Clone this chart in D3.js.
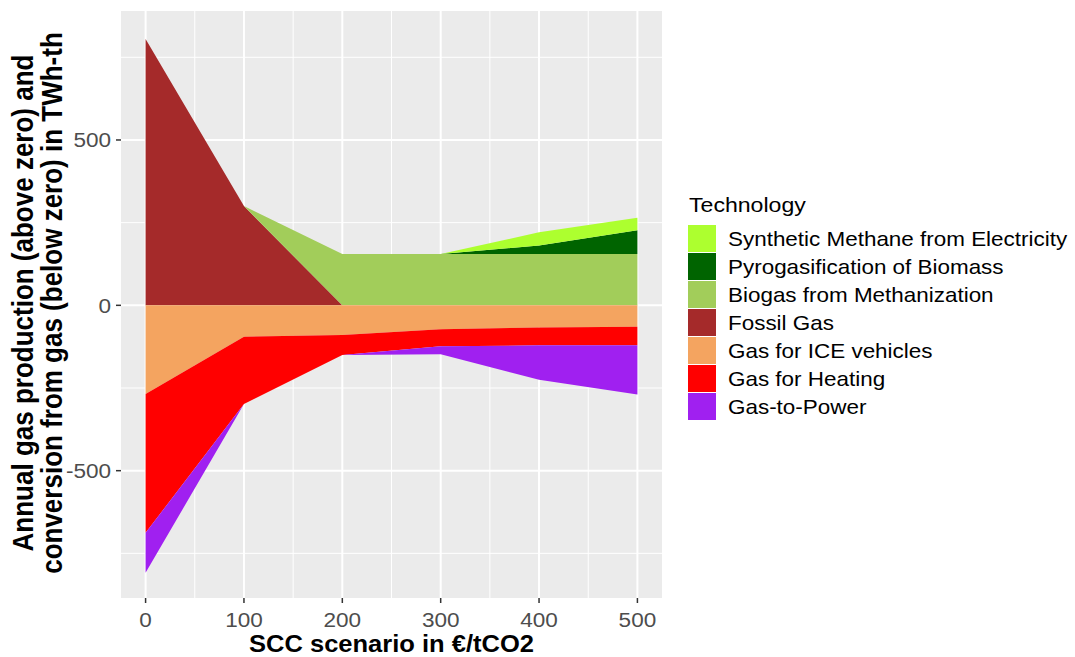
<!DOCTYPE html>
<html>
<head>
<meta charset="utf-8">
<script src="https://cdn.jsdelivr.net/npm/d3@7"></script>
<style>
    body { margin: 0; background: #ffffff; }
    svg { display: block; font-family: "Liberation Sans", Arial, sans-serif; }
</style>
</head>
<body>
<div class="chart"></div>
<script>
// SCC scenarios (€/tCO2)
const scenarios = [0, 100, 200, 300, 400, 500];

// production (TWh-th), above zero
const fossilGas = [805, 300, 0, 0, 0, 0];
const biogasMethanization = [0, 0, 155, 155, 155, 155];
const pyrogasification = [0, 0, 0, 0, 26, 72];
const syntheticMethane = [0, 0, 0, 0, 40, 38];

// conversion from gas (TWh-th), drawn below zero
const gasIceVehicles = [268, 95, 90, 72, 67, 65];
const gasHeating = [420, 203, 60, 52, 54, 56];
const gasToPower = [121, 0, 0, 24, 104, 149];

const xTicks = [0, 100, 200, 300, 400, 500];
const yTicks = [-500, 0, 500];

const techColors = {
    "Synthetic Methane from Electricity": "#ADFF2F",
    "Pyrogasification of Biomass": "#006400",
    "Biogas from Methanization": "#A2CD5A",
    "Fossil Gas": "#A52A2A",
    "Gas for ICE vehicles": "#F4A460",
    "Gas for Heating": "#FF0000",
    "Gas-to-Power": "#A020F0"
};
const legendOrder = Object.keys(techColors);

const rows = scenarios.map((s, i) => ({
    scc: s,
    "Fossil Gas": fossilGas[i],
    "Biogas from Methanization": biogasMethanization[i],
    "Pyrogasification of Biomass": pyrogasification[i],
    "Synthetic Methane from Electricity": syntheticMethane[i],
    "Gas for ICE vehicles": -gasIceVehicles[i],
    "Gas for Heating": -gasHeating[i],
    "Gas-to-Power": -gasToPower[i]
}));

const productionKeys = ["Fossil Gas", "Biogas from Methanization", "Pyrogasification of Biomass", "Synthetic Methane from Electricity"];
const consumptionKeys = ["Gas for ICE vehicles", "Gas for Heating", "Gas-to-Power"];

const width = 1075;
const height = 657;
const panel = { left: 121, right: 662, top: 11, bottom: 598 };
// the reference text is a little wider than tall
const stretch = 1.1;

const svg = d3.select(".chart").append("svg")
    .attr("width", width)
    .attr("height", height);

// scales (ggplot-like 5% expansion)
const x = d3.scaleLinear()
    .domain([-25, 525])
    .range([panel.left, panel.right]);

const y = d3.scaleLinear()
    .domain([-885, 890])
    .range([panel.bottom, panel.top]);

svg.append("rect")
    .attr("x", panel.left)
    .attr("y", panel.top)
    .attr("width", panel.right - panel.left)
    .attr("height", panel.bottom - panel.top)
    .attr("fill", "#EBEBEB");

// grid
const grid = svg.append("g").attr("stroke", "#ffffff");
const xMinor = d3.range(50, 500, 100);
const yMinor = [-750, -250, 250, 750];

grid.selectAll(".xminor").data(xMinor).join("line")
    .attr("x1", d => x(d)).attr("x2", d => x(d))
    .attr("y1", panel.top).attr("y2", panel.bottom)
    .attr("stroke-width", 1);
grid.selectAll(".yminor").data(yMinor).join("line")
    .attr("x1", panel.left).attr("x2", panel.right)
    .attr("y1", d => y(d)).attr("y2", d => y(d))
    .attr("stroke-width", 1);
grid.selectAll(".xmajor").data(xTicks).join("line")
    .attr("x1", d => x(d)).attr("x2", d => x(d))
    .attr("y1", panel.top).attr("y2", panel.bottom)
    .attr("stroke-width", 2);
grid.selectAll(".ymajor").data(yTicks).join("line")
    .attr("x1", panel.left).attr("x2", panel.right)
    .attr("y1", d => y(d)).attr("y2", d => y(d))
    .attr("stroke-width", 2);

// stacked areas: production upward, consumption downward
const stackUp = d3.stack().keys(productionKeys)(rows);
const stackDown = d3.stack().keys(consumptionKeys)(rows);

const area = d3.area()
    .x(d => x(d.data.scc))
    .y0(d => y(d[0]))
    .y1(d => y(d[1]));

svg.append("g")
    .selectAll("path")
    .data(stackUp.concat(stackDown))
    .join("path")
    .attr("fill", d => techColors[d.key])
    .attr("d", area);

// axes
const tickColor = "#333333";
const labelColor = "#4D4D4D";

const xAxis = svg.append("g");
xAxis.selectAll("line").data(xTicks).join("line")
    .attr("x1", d => x(d)).attr("x2", d => x(d))
    .attr("y1", panel.bottom).attr("y2", panel.bottom + 5)
    .attr("stroke", tickColor).attr("stroke-width", 1.5);
xAxis.selectAll("text").data(xTicks).join("text")
    .attr("transform", d => `translate(${x(d)},627) scale(${stretch},1)`)
    .attr("text-anchor", "middle")
    .attr("fill", labelColor)
    .style("font-size", "20.5px")
    .text(d => d);

const yAxis = svg.append("g");
yAxis.selectAll("line").data(yTicks).join("line")
    .attr("x1", panel.left - 5).attr("x2", panel.left)
    .attr("y1", d => y(d)).attr("y2", d => y(d))
    .attr("stroke", tickColor).attr("stroke-width", 1.5);
yAxis.selectAll("text").data(yTicks).join("text")
    .attr("transform", d => `translate(111,${y(d)}) scale(${stretch},1)`)
    .attr("dy", "0.36em")
    .attr("text-anchor", "end")
    .attr("fill", labelColor)
    .style("font-size", "20.5px")
    .text(d => d);

// axis titles
svg.append("text")
    .attr("transform", `translate(${(panel.left + panel.right) / 2},652) scale(${stretch},1)`)
    .attr("text-anchor", "middle")
    .style("font-size", "23.2px")
    .style("font-weight", "bold")
    .text("SCC scenario in €/tCO2");

const yTitle = svg.append("text")
    .attr("transform", `translate(0,303) scale(${stretch},1) rotate(-90)`)
    .attr("text-anchor", "middle")
    .style("font-size", "26px")
    .style("font-weight", "bold");
yTitle.append("tspan").attr("x", 0).attr("y", 30).text("Annual gas production (above zero) and");
yTitle.append("tspan").attr("x", 0).attr("y", 56.5).text("conversion from gas (below zero) in TWh-th");

// legend
const legend = svg.append("g").attr("transform", "translate(688,0)");
legend.append("text")
    .attr("transform", `translate(1,212) scale(${stretch},1)`)
    .style("font-size", "21px")
    .text("Technology");

const keyStep = 28;
const item = legend.selectAll("g.item")
    .data(legendOrder)
    .join("g")
    .attr("transform", (d, i) => `translate(0,${225 + i * keyStep})`);
item.append("rect")
    .attr("width", 28)
    .attr("height", 27)
    .attr("fill", d => techColors[d]);
item.append("text")
    .attr("transform", `translate(40,13.5) scale(${stretch},1)`)
    .attr("dy", "0.36em")
    .style("font-size", "20.4px")
    .text(d => d);
</script>
</body>
</html>
